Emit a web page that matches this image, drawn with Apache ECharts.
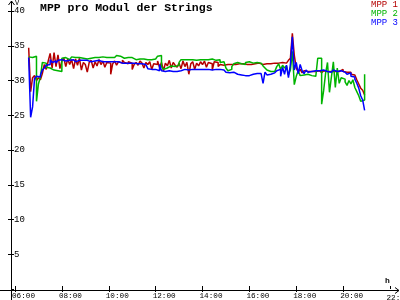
<!DOCTYPE html>
<html><head><meta charset="utf-8">
<script src="https://cdn.jsdelivr.net/npm/echarts@6/dist/echarts.min.js"></script>
<style>html,body{margin:0;padding:0;background:#fff}#c{width:400px;height:300px}</style>
</head><body><div id="c"></div>
<script>
// ---- data ----
const seriesNames = ['MPP 1', 'MPP 2', 'MPP 3'];
const seriesColors = ['#b40000', '#00b400', '#0000ff'];
const startHour = 6, startMinute = 35, stepMinutes = 5;   // sample grid: 06:35 .. 20:55
const xTickHours = [6, 8, 10, 12, 14, 16, 18, 20, 22];
const yTickValues = [0, 5, 10, 15, 20, 25, 30, 35, 40];

const mpp1 = [
  34.7, 28.4, 30.4, 30.7, 30.0,
  30.4, 30.1, 31.0, 32.3, 31.6, 32.8, 33.9, 31.8, 34.0, 32.0, 33.7, 31.7,
  32.8, 33.2, 32.0, 33.1, 32.3, 33.0, 31.7, 33.1, 32.2, 33.2, 31.5, 32.6,
  32.3, 31.2, 32.6, 32.9, 31.8, 32.7, 32.1, 33.0, 32.3, 32.8, 31.9, 32.6,
  32.5, 30.9, 32.4, 32.8, 32.2, 32.7, 32.5, 32.9, 32.6, 32.4, 32.7, 32.5,
  31.6, 32.3, 32.6, 32.2, 32.8, 32.5, 31.8, 32.6, 32.3, 32.7, 31.6, 32.4,
  32.3, 32.8, 31.9, 32.6, 31.4, 32.5, 32.1, 32.9, 31.8, 32.6, 32.2, 31.9,
  32.5, 31.7, 32.8, 32.0, 32.6, 30.9, 32.4, 32.7, 31.6, 32.5, 32.1, 32.7,
  32.3, 32.8, 31.9, 32.6, 32.4, 31.5, 32.7, 32.6, 32.0, 32.3, 32.2, 32.3,
  32.3, 32.4, 32.3, 32.4, 32.3, 32.3, 32.4, 32.3, 32.4, 32.5, 32.3, 32.4,
  32.3, 32.5, 32.4, 32.3, 32.5, 32.4, 32.3, 32.5, 32.4, 32.3, 32.4, 32.5,
  32.5, 32.4, 32.5, 32.6, 32.6, 32.7, 32.5, 32.6, 32.9, 33.2, 36.8, 33.6,
  31.8, 31.2, 31.6, 31.1, 31.4, 31.3, 31.3, 31.3, 31.4, 31.3, 31.3, 31.4,
  31.3, 31.1, 31.4, 31.3, 31.2, 31.3, 31.4, 31.3, 31.2, 31.3, 31.5, 31.6,
  31.3, 31.2, 31.0, 31.2, 30.9, 30.8, 30.6, 30.1, 29.5, 28.9, 28.6, 27.9
];
const mpp2 = [
  33.4, 33.3, 33.4, 33.5, 27.0,
  29.5, 30.5, 32.6, 32.5, 31.9, 31.8, 31.6, 31.5, 31.6, 31.4, 31.3, 31.3,
  33.2, 33.3, 33.1, 33.0, 33.2, 33.4, 33.3, 33.2, 33.3, 33.2, 33.2, 33.3,
  33.1, 33.3, 33.2, 33.2, 33.3, 33.2, 33.3, 33.2, 33.4, 33.3, 33.3, 33.4,
  33.3, 33.4, 33.3, 33.4, 33.6, 33.5, 33.3, 33.2, 33.3, 33.3, 33.2, 33.3,
  33.1, 33.0, 33.2, 33.1, 33.0, 33.1, 33.0, 33.0, 33.1, 33.0, 33.2, 33.1,
  33.2, 33.5, 33.6, 32.0, 31.6, 31.8, 32.0, 32.1, 32.2, 32.0, 32.1, 32.2,
  32.6, 33.0, 33.0, 32.9, 33.0, 32.9, 33.0, 33.0, 32.9, 33.0, 33.0, 33.0,
  33.0, 33.1, 33.0, 33.0, 33.1, 33.0, 32.9, 33.0, 33.0, 32.6, 32.7, 32.5,
  31.8, 31.4, 31.6, 32.0, 32.4, 32.6, 32.6, 32.4, 32.2, 32.3, 32.6, 32.7,
  32.7, 32.5, 32.3, 32.6, 32.7, 32.5, 32.3, 32.1, 31.8, 31.5, 31.3, 31.3,
  31.3, 31.4, 32.0, 32.4, 31.6, 32.2, 31.8, 32.1, 30.8, 31.5, 34.2, 29.4,
  30.6, 31.4, 30.7, 30.8, 30.7, 30.9, 30.8, 30.7, 30.8, 30.6, 30.7, 33.2,
  33.2, 26.6, 28.5, 31.0, 32.6, 28.3, 30.5, 32.7, 29.0, 31.8, 29.6, 30.4,
  30.2, 29.8, 29.3, 30.0, 29.5, 30.1, 29.0, 28.4, 27.8, 27.0, 27.2, 30.9
];
const mpp3 = [
  33.3, 24.7, 26.2, 30.3, 30.6,
  30.5, 30.8, 31.5, 31.8, 32.2, 32.3, 33.0, 32.6, 32.8, 32.5, 32.9, 33.0,
  32.9, 32.8, 33.0, 32.9, 32.8, 33.0, 32.9, 32.7, 32.9, 32.8, 32.9, 32.8,
  32.9, 32.8, 32.7, 32.7, 32.8, 32.7, 32.9, 32.8, 32.7, 32.6, 32.7, 32.8,
  32.7, 32.6, 32.7, 32.6, 32.7, 32.6, 32.5, 32.6, 32.5, 32.6, 32.5, 32.5,
  32.5, 32.5, 32.4, 32.5, 32.4, 32.4, 32.3, 32.4, 31.7, 31.6, 31.6, 31.6,
  31.5, 31.4, 32.3, 31.4, 31.3, 31.3, 31.4, 31.3, 31.3, 31.4, 31.3, 31.3,
  31.4, 31.5, 31.6, 31.6, 31.5, 31.6, 31.6, 31.5, 31.6, 31.6, 31.6, 31.5,
  31.6, 31.5, 31.6, 31.6, 31.5, 31.6, 31.6, 31.5, 31.6, 31.6, 31.5, 31.4,
  31.2, 31.1, 31.0, 31.2, 31.0, 30.9, 31.0, 30.8, 30.9, 30.7, 30.8, 30.7,
  30.7, 30.9, 31.1, 31.0, 31.1, 31.0, 31.1, 29.6, 31.2, 30.8, 30.9, 31.0,
  31.1, 30.9, 31.4, 31.6, 30.6, 31.9, 30.9, 32.2, 30.4, 32.3, 36.3, 31.5,
  32.6, 31.0, 32.3, 31.4, 31.0, 31.5, 31.2, 31.3, 31.2, 31.4, 31.3, 31.4,
  31.2, 31.5, 31.6, 31.3, 31.4, 31.2, 31.3, 31.5, 31.3, 31.2, 31.4, 31.5,
  31.2, 31.3, 30.9, 31.1, 30.6, 30.5, 30.2, 29.6, 28.9, 27.8, 27.2, 25.7
];

// ---- chart ----
const FONT = "'Liberation Mono', 'DejaVu Sans Mono', monospace";
const t0 = startHour + startMinute / 60;
function toPairs(arr) { return arr.map((v, i) => [t0 + i * stepMinutes / 60, v]); }
const pad2 = n => (n < 10 ? '0' : '') + n;
const fmtHour = v => pad2(v) + ':00';

const chart = echarts.init(document.getElementById('c'), null, { renderer: 'canvas' });
const xMin = xTickHours[0], xMax = xTickHours[xTickHours.length - 1];
const yMin = yTickValues[0], yMax = yTickValues[yTickValues.length - 1];

const xBase = {
  type: 'value', min: xMin, max: xMax, interval: 2, position: 'bottom',
  axisLine: { show: false }, splitLine: { show: false }
};
const yBase = {
  type: 'value', min: yMin, max: yMax, interval: 5, position: 'left', offset: 4,
  axisLine: { show: false }, splitLine: { show: false }
};

chart.setOption({
  animation: false,
  backgroundColor: '#ffffff',
  title: {
    text: 'MPP pro Modul der Strings', left: 40, top: 2, padding: 0,
    textStyle: { fontFamily: FONT, fontSize: 11.5, fontWeight: 'bold', color: '#000' }
  },
  legend: {
    orient: 'vertical', right: 2, top: 0, padding: 0, itemGap: 0,
    itemWidth: 0, itemHeight: 7, icon: 'rect', selectedMode: false,
    itemStyle: { opacity: 0 },
    textStyle: { fontFamily: FONT, fontSize: 9, lineHeight: 7.5, padding: [0, 0, 0, -5] },
    data: seriesNames.map((n, i) => ({ name: n, textStyle: { color: seriesColors[i] } }))
  },
  grid: { left: 15, right: 10, top: 11, bottom: 9 },
  xAxis: [
    Object.assign({}, xBase, {
      axisTick: { show: true, length: 3, lineStyle: { color: '#000' } },
      axisLabel: {
        color: '#000', fontFamily: FONT, fontSize: 7.7, margin: 3, align: 'left',
        alignMinLabel: 'left', showMaxLabel: false,
        padding: [0, 0, 0, -3],
        formatter: fmtHour
      }
    }),
    Object.assign({}, xBase, {
      axisTick: { show: true, inside: true, length: 3, lineStyle: { color: '#000' } },
      axisLabel: { show: false }
    })
  ],
  yAxis: [
    Object.assign({}, yBase, {
      axisTick: { show: true, length: 3, lineStyle: { color: '#000' } },
      axisLabel: {
        inside: true, margin: 3, color: '#000', fontFamily: FONT, fontSize: 9,
        showMinLabel: false
      }
    }),
    Object.assign({}, yBase, {
      axisTick: { show: true, inside: true, length: 3, lineStyle: { color: '#000' } },
      axisLabel: { show: false }
    })
  ],
  graphic: [
    { type: 'line', shape: { x1: 11.5, y1: 1, x2: 11.5, y2: 300 }, style: { stroke: '#000', lineWidth: 1 }, silent: true },
    { type: 'polyline', shape: { points: [[8.5, 5], [11.5, 1], [14.5, 5]] }, style: { stroke: '#000', lineWidth: 1, fill: null }, silent: true },
    { type: 'line', shape: { x1: 0, y1: 290.5, x2: 399, y2: 290.5 }, style: { stroke: '#000', lineWidth: 1 }, silent: true },
    { type: 'polyline', shape: { points: [[395, 287.5], [399, 290.5], [395, 293.5]] }, style: { stroke: '#000', lineWidth: 1, fill: null }, silent: true },
    { type: 'text', left: 15, top: 0, style: { text: 'V', font: "7px " + FONT, fill: '#000' }, silent: true },
    { type: 'text', left: 385, top: 277, style: { text: 'h', font: "bold 8px " + FONT, fill: '#000' }, silent: true },
    { type: 'text', x: 386.5, y: 293.5, style: { text: fmtHour(xMax), font: "7.7px " + FONT, fill: '#000', textAlign: 'left', textVerticalAlign: 'top' }, silent: true }
  ],
  series: [mpp1, mpp2, mpp3].map((arr, i) => ({
    name: seriesNames[i], type: 'line', xAxisIndex: 0, yAxisIndex: 0,
    data: toPairs(arr), showSymbol: false, symbol: 'none', step: 'end',
    lineStyle: { color: seriesColors[i], width: 1.5 }, itemStyle: { color: seriesColors[i] },
    emphasis: { disabled: true }
  }))
});
</script></body></html>
